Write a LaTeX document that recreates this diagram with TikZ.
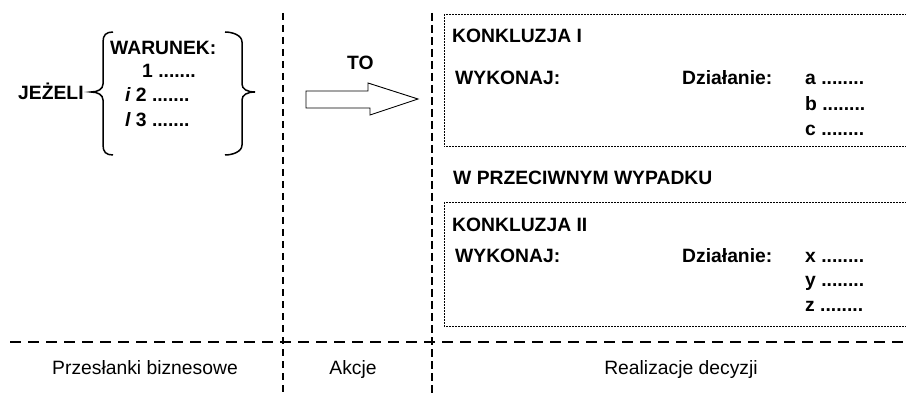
\documentclass[tikz,border=0pt]{standalone}
\usepackage{fontspec}
\setmainfont{Liberation Sans}
\begin{document}
\begin{tikzpicture}[x=1pt,y=-1pt,
  txt/.style={inner sep=0pt, anchor=base west, font=\bfseries\fontsize{19.3}{23}\selectfont},
  caption/.style={inner sep=0pt, anchor=base, font=\fontsize{19.3}{23}\selectfont},
  divider/.style={line width=2pt, dash pattern=on 7pt off 5pt},
  boldvdivider/.style={line width=2.6pt, dash pattern=on 8pt off 4pt},
  hdivider/.style={line width=2pt, dash pattern=on 11pt off 7pt},
  framebox/.style={line width=1pt, dash pattern=on 2pt off 1pt},
  bracepath/.style={line width=1.5pt},
  blockarrow/.style={line width=0.9pt, fill=white}]
  \fill[white] (0,0) rectangle (906,393);
  \useasboundingbox (0,0) rectangle (906,393);
  \clip (0,0) rectangle (906,393);

  % column and row separators
  \draw[divider] (283,13) -- (283,395);
  \draw[boldvdivider] (432,13) -- (432,395);
  \draw[hdivider] (10,342) -- (906,342);

  % condition part
  \node[txt] (jezeli) at (18,100) {JEŻELI};
  \draw[bracepath] (113,32) .. controls (106,32) and (103,35) .. (103,42)
    -- (103,84) .. controls (103,89) and (98,92) .. (91,92)
    .. controls (98,92) and (103,95) .. (103,100)
    -- (103,145) .. controls (103,152) and (106,155) .. (113,155);
  \draw[bracepath] (225,32) .. controls (232,32) and (242,35) .. (242,42)
    -- (242,84) .. controls (242,89) and (247,92) .. (255,92)
    .. controls (247,92) and (242,95) .. (242,100)
    -- (242,145) .. controls (242,152) and (232,155) .. (225,155);
  \node[txt] (warunek) at (110,55) {WARUNEK:};
  \node[txt] (w1) at (142,78) {1 .......};
  \node[txt] (w2) at (125,102) {\itshape i\upshape{} 2 .......};
  \node[txt] (w3) at (125,127) {\itshape l\upshape{} 3 .......};

  % action part
  \node[txt] (to) at (347,70) {TO};
  \draw[blockarrow] (306,91) -- (368,91) -- (368,83) -- (418,99)
    -- (370,115) -- (370,108) -- (306,108) -- cycle;

  % first conclusion
  \draw[framebox] (910,15) -- (444,15) -- (444,147) -- (910,147);
  \node[txt] (k1) at (452,43) {KONKLUZJA I};
  \node[txt] (wyk1) at (455,85) {WYKONAJ:};
  \node[txt] (dz1) at (682,85) {Działanie:};
  \node[txt] (a) at (805,85) {a ........};
  \node[txt] (b) at (805,111) {b ........};
  \node[txt] (c) at (805,136) {c ........};

  \node[txt] (else) at (453,185) {W PRZECIWNYM WYPADKU};

  % second conclusion
  \draw[framebox] (910,203) -- (444,203) -- (444,326) -- (910,326);
  \node[txt] (k2) at (452,232) {KONKLUZJA II};
  \node[txt] (wyk2) at (455,262) {WYKONAJ:};
  \node[txt] (dz2) at (682,262) {Działanie:};
  \node[txt] (xx) at (805,262) {x ........};
  \node[txt] (yy) at (805,287) {y ........};
  \node[txt] (zz) at (805,312) {z ........};

  % column captions
  \node[caption] (c1) at (145,374) {Przesłanki biznesowe};
  \node[caption] (c2) at (353,374) {Akcje};
  \node[caption] (c3) at (681,374) {Realizacje decyzji};
\end{tikzpicture}
\end{document}
